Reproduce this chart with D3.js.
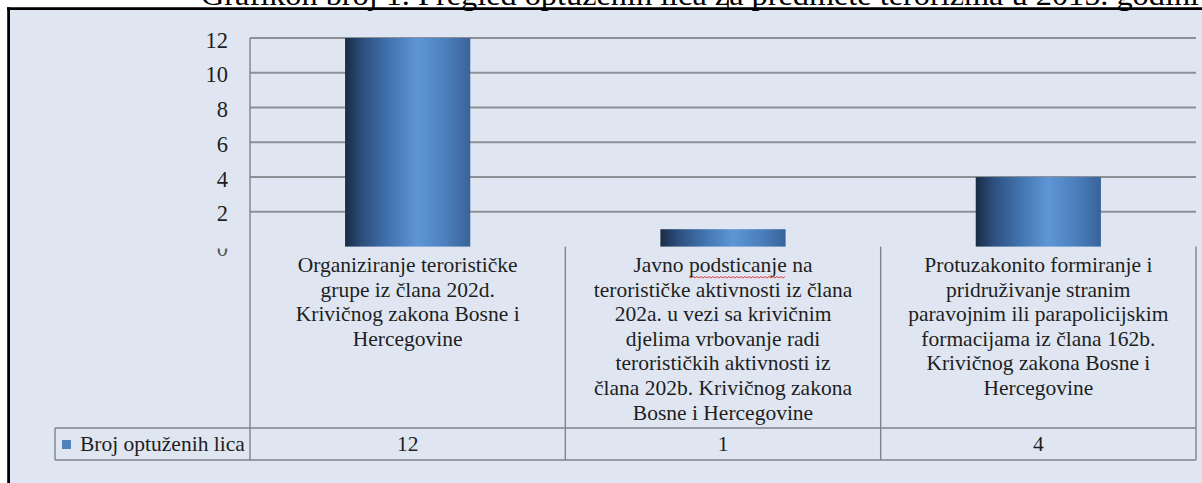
<!DOCTYPE html>
<html>
<head>
<meta charset="utf-8">
<script src="https://cdn.jsdelivr.net/npm/d3@7"></script>
<style>
  body { margin: 0; background: #fff; }
  svg { display: block; }
</style>
</head>
<body>
<div id="chart"></div>
<script>
// data
var titleText = "Grafikon broj 1. Pregled optuženih lica za predmete terorizma u 2015. godini";
var seriesName = "Broj optuženih lica";
var categories = ["c1", "c2", "c3"];
var categoryLines = [
    ["Organiziranje terorističke", "grupe iz člana 202d.", "Krivičnog zakona Bosne i", "Hercegovine"],
    ["Javno podsticanje na", "terorističke aktivnosti  iz člana", "202a. u vezi sa krivičnim", "djelima vrbovanje radi",
     "terorističkih aktivnosti iz", "člana 202b. Krivičnog zakona", "Bosne i Hercegovine"],
    ["Protuzakonito formiranje i", "pridruživanje stranim", "paravojnim ili parapolicijskim",
     "formacijama iz člana 162b.", "Krivičnog zakona Bosne i", "Hercegovine"]
];
var values = [12, 1, 4];
var yTicks = [0, 2, 4, 6, 8, 10, 12];

var W = 1202, H = 483;
var plotLeft = 250, plotRight = 1196,
    yTop = 38, yZero = 246.6,
    tableTop = 428, tableBottom = 460, legendLeft = 55;
var serif = "'Times New Roman', 'Liberation Serif', 'DejaVu Serif', serif";
var labelSize = "21.5px";

var svg = d3.select("#chart").append("svg")
    .attr("width", W)
    .attr("height", H)
    .style("font-family", serif);

var defs = svg.append("defs");

// bar gradient (horizontal, dark left, light middle)
var grad = defs.append("linearGradient")
    .attr("id", "barGrad")
    .attr("x1", "0%").attr("x2", "100%")
    .attr("y1", "0%").attr("y2", "0%");
[["0%", "#1a2b44"], ["14%", "#2c4f7e"], ["35%", "#4273ae"], ["58%", "#5e96d6"], ["80%", "#4b7fbd"], ["100%", "#39639a"]]
    .forEach(function (s) {
        grad.append("stop").attr("offset", s[0]).attr("stop-color", s[1]);
    });

// clip for the half-hidden zero label
defs.append("clipPath").attr("id", "zeroClip")
    .append("rect").attr("x", 150).attr("y", yZero + 2).attr("width", 100).attr("height", 30);

// frame background
svg.append("rect")
    .attr("x", 9).attr("y", 9)
    .attr("width", W - 9).attr("height", H - 9)
    .attr("fill", "#dfe6f2");

// title (mostly cut off by the page, as in the source)
svg.append("text")
    .attr("x", 201)
    .attr("y", 4.5)
    .attr("textLength", 998)
    .attr("lengthAdjust", "spacingAndGlyphs")
    .style("font-size", "29px")
    .attr("fill", "#000")
    .text(titleText);

// black frame lines
svg.append("line").attr("x1", 7).attr("x2", W).attr("y1", 8.7).attr("y2", 8.7)
    .attr("stroke", "#000").attr("stroke-width", 2.8);
svg.append("line").attr("x1", 8.6).attr("x2", 8.6).attr("y1", 7.3).attr("y2", H)
    .attr("stroke", "#000").attr("stroke-width", 2.8);
svg.append("line").attr("x1", 728).attr("x2", 728).attr("y1", 0).attr("y2", 8)
    .attr("stroke", "#000").attr("stroke-width", 1.5);

// scales
var xScale = d3.scaleBand().domain(categories).range([plotLeft, plotRight]).padding(0);
var yScale = d3.scaleLinear().domain([0, 12]).range([yZero, yTop]);
var barW = xScale.bandwidth() * 0.397;

// gridlines
svg.append("g").selectAll("line")
    .data(yTicks.filter(function (d) { return d > 0; }))
    .enter().append("line")
    .attr("x1", plotLeft).attr("x2", plotRight)
    .attr("y1", function (d) { return yScale(d); })
    .attr("y2", function (d) { return yScale(d); })
    .attr("stroke", "#8b9097")
    .attr("stroke-width", 2);

// y labels
svg.append("g").selectAll("text")
    .data(yTicks)
    .enter().append("text")
    .attr("x", 228)
    .attr("y", function (d) { return yScale(d) + 9.5; })
    .attr("text-anchor", "end")
    .attr("clip-path", function (d) { return d === 0 ? "url(#zeroClip)" : null; })
    .style("font-size", "22.5px")
    .attr("fill", function (d) { return d === 0 ? "#555" : "#1e1e1e"; })
    .text(function (d) { return d; });

// bars
svg.append("g").selectAll("rect")
    .data(values)
    .enter().append("rect")
    .attr("x", function (d, i) { return xScale(categories[i]) + (xScale.bandwidth() - barW) / 2; })
    .attr("y", function (d) { return yScale(d); })
    .attr("width", barW)
    .attr("height", function (d) { return yZero - yScale(d); })
    .attr("fill", "url(#barGrad)");

// table lines
var lineColor = "#7e838a";
var tbl = svg.append("g").attr("stroke", lineColor).attr("stroke-width", 1.4);
tbl.append("line").attr("x1", plotLeft).attr("x2", plotLeft).attr("y1", yTop).attr("y2", tableBottom);
categories.forEach(function (c) {
    var xr = xScale(c) + xScale.bandwidth();
    tbl.append("line").attr("x1", xr).attr("x2", xr).attr("y1", yZero).attr("y2", tableBottom);
});
tbl.append("line").attr("x1", legendLeft).attr("x2", plotRight).attr("y1", tableTop).attr("y2", tableTop);
tbl.append("line").attr("x1", legendLeft).attr("x2", plotRight).attr("y1", tableBottom).attr("y2", tableBottom);
tbl.append("line").attr("x1", legendLeft).attr("x2", legendLeft).attr("y1", tableTop).attr("y2", tableBottom);

// category labels
var lineH = 24.6;
categories.forEach(function (c, i) {
    var cx = xScale(c) + xScale.bandwidth() / 2;
    var t = svg.append("text")
        .attr("text-anchor", "middle")
        .attr("fill", "#1e1e1e")
        .style("font-size", labelSize);
    categoryLines[i].forEach(function (ln, j) {
        t.append("tspan")
            .attr("x", cx)
            .attr("y", 272 + j * lineH)
            .text(ln);
    });
});

// spell-check squiggle under "podsticanje"
(function () {
    var cx = xScale(categories[1]) + xScale.bandwidth() / 2;
    var probe = svg.append("text").style("font-size", labelSize)
        .text(categoryLines[1][0]);
    var total = probe.node().getComputedTextLength();
    var start = probe.node().getSubStringLength(0, 6);
    var len = probe.node().getSubStringLength(6, 11);
    probe.remove();
    var x0 = cx - total / 2 + start, y0 = 276.5;
    var pts = [];
    for (var k = 0; k * 2 <= len; k++) {
        pts.push([x0 + k * 2, y0 + (k % 2 ? 1.5 : 0)]);
    }
    svg.append("path")
        .attr("d", d3.line()(pts))
        .attr("fill", "none")
        .attr("stroke", "#e03030")
        .attr("stroke-width", 0.9);
})();

// legend cell
svg.append("rect")
    .attr("x", 62).attr("y", 440)
    .attr("width", 9).attr("height", 9)
    .attr("fill", "#4f81bd");
svg.append("text")
    .attr("x", 80).attr("y", 451)
    .attr("fill", "#1e1e1e")
    .style("font-size", labelSize)
    .text(seriesName);

// values row
svg.append("g").selectAll("text")
    .data(values)
    .enter().append("text")
    .attr("x", function (d, i) { return xScale(categories[i]) + xScale.bandwidth() / 2; })
    .attr("y", 451)
    .attr("text-anchor", "middle")
    .attr("fill", "#1e1e1e")
    .style("font-size", labelSize)
    .text(function (d) { return d; });
</script>
</body>
</html>
